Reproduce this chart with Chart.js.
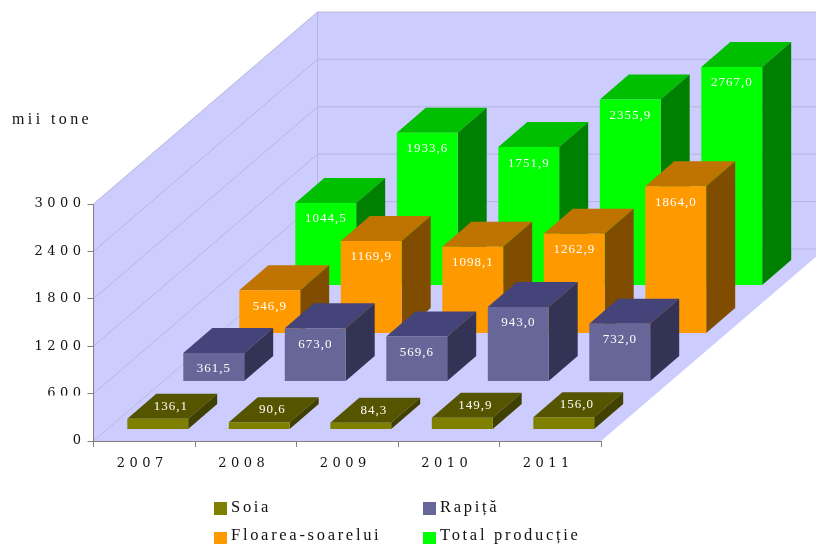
<!DOCTYPE html>
<html>
<head>
<meta charset="utf-8">
<style>html,body{margin:0;padding:0;background:#fff}canvas{display:block}</style>
<script src="https://cdn.jsdelivr.net/npm/chart.js@4"></script>
</head>
<body>
<canvas id="c" width="816" height="544"></canvas>
<script>
const years = ['2007','2008','2009','2010','2011'];
const soia = [136.1,90.6,84.3,149.9,156.0];
const rapita = [361.5,673.0,569.6,943.0,732.0];
const floarea = [546.9,1169.9,1098.1,1262.9,1864.0];
const total = [1044.5,1933.6,1751.9,2355.9,2767.0];
const yTicks = [0,600,1200,1800,2400,3000];
const names = ['Soia','Rapiță','Floarea-soarelui','Total producție'];
const unitLabel = 'mii tone';
const frontColors = ['#808000','#666699','#FF9900','#00FF00'];
const topColors = ['#555500','#44447A','#BF7300','#00BF00'];
const sideColors = ['#404000','#333355','#804D00','#008000'];

const WALL='#CCCCFF', GRID='#B6B6DE', AXIS='#808080', FONT='"Liberation Serif", serif', TICKFONT='"DejaVu Serif", serif';
const DX=224, DY=192, BDX=29, BDY=25;

function poly(ctx,pts,fill){
  ctx.beginPath();
  pts.forEach((p,i)=>i?ctx.lineTo(p[0],p[1]):ctx.moveTo(p[0],p[1]));
  ctx.closePath();
  ctx.fillStyle=fill; ctx.fill();
}
function line(ctx,x1,y1,x2,y2,c){
  ctx.beginPath();ctx.moveTo(x1,y1);ctx.lineTo(x2,y2);ctx.strokeStyle=c;ctx.lineWidth=1;ctx.stroke();
}
const fmt=v=>v.toFixed(1).replace('.',',');

const scene={
  id:'scene',
  beforeDraw(chart){
    const ctx=chart.ctx,a=chart.chartArea,ys=chart.scales.y;
    const L=a.left,R=a.right,B=a.bottom,T=ys.getPixelForValue(3000);
    ctx.save();
    poly(ctx,[[L,B],[L,T],[L+DX,T-DY],[L+DX,B-DY]],WALL);
    poly(ctx,[[L+DX,T-DY],[R+DX,T-DY],[R+DX,B-DY],[L+DX,B-DY]],WALL);
    poly(ctx,[[L,B],[R,B],[R+DX,B-DY],[L+DX,B-DY]],WALL);
    yTicks.forEach(v=>{
      const y=ys.getPixelForValue(v);
      line(ctx,L,y,L+DX,y-DY,GRID);
      line(ctx,L+DX,y-DY,R+DX,y-DY,GRID);
    });
    line(ctx,L+DX,T-DY,L+DX,B-DY,GRID);
    ctx.restore();
    ctx.letterSpacing='4.5px';
  },
  beforeDatasetsDraw(chart){
    const ctx=chart.ctx;
    ctx.letterSpacing='0px';
    ctx.save();
    // the 600 tick label is cut by a white band in the reference
    const y6=chart.scales.y.getPixelForValue(600);
    ctx.fillStyle='#fff';ctx.fillRect(30,y6+2,55,9);
    const n=chart.data.datasets.length;
    for(let k=n-1;k>=0;k--){
      const meta=chart.getDatasetMeta(k);
      const ox=13.5+k*DX/n, oy=-11.5-k*DY/n;
      meta.data.forEach((el,i)=>{
        const l=el.x-el.width/2+ox, r=el.x+el.width/2+ox, t=el.y+oy, b=el.base+oy;
        poly(ctx,[[l,t],[l+BDX,t-BDY],[r+BDX,t-BDY],[r,t]],topColors[k]);
        poly(ctx,[[r,t],[r+BDX,t-BDY],[r+BDX,b-BDY],[r,b]],sideColors[k]);
        poly(ctx,[[l,t],[r,t],[r,b],[l,b]],frontColors[k]);
        ctx.font='13px '+FONT;ctx.fillStyle='#fff';ctx.textAlign='center';ctx.textBaseline='middle';
        ctx.letterSpacing='1px';
        const v=chart.data.datasets[k].data[i], cx=(l+r)/2;
        if(b-t<20) ctx.fillText(fmt(v),cx+13,t-12.5);
        else ctx.fillText(fmt(v),cx,t+16);
        ctx.letterSpacing='0px';
      });
    }
    // unit label
    ctx.font='16px '+FONT;ctx.fillStyle='#111';ctx.textAlign='left';ctx.textBaseline='alphabetic';
    ctx.letterSpacing='3.4px';
    ctx.fillText(unitLabel,12,124);
    // legend
    const cols=[214,423], rows=[502,532], baselines=[512,540];
    chart.data.datasets.forEach((d,k)=>{
      const x=cols[k%2], r=k>>1;
      ctx.fillStyle=frontColors[k];ctx.fillRect(x,rows[r],13,13);
      ctx.fillStyle='#111';ctx.font='16.5px '+FONT;ctx.letterSpacing='2.7px';
      ctx.fillText(d.label,x+17,baselines[r]);
    });
    ctx.restore();
    ctx.letterSpacing='0px';
    return false;
  }
};

new Chart(document.getElementById('c'),{
  type:'bar',
  data:{labels:years,datasets:[soia,rapita,floarea,total].map((data,k)=>({
    label:names[k],data,backgroundColor:frontColors[k],grouped:false,
    categoryPercentage:0.6,barPercentage:1
  }))},
  plugins:[scene],
  options:{
    responsive:false,animation:false,events:[],
    layout:{padding:{left:0,right:215,top:204,bottom:0}},
    plugins:{legend:{display:false},title:{display:false},tooltip:{enabled:false}},
    scales:{
      x:{
        afterFit(s){s.height=103;},
        grid:{drawOnChartArea:false,color:AXIS,tickLength:6,offset:true},
        border:{color:AXIS},
        ticks:{color:'#111',font:{family:TICKFONT,size:13},padding:9,labelOffset:-2,maxRotation:0}
      },
      y:{
        min:0,max:3000,
        afterFit(s){s.width=93.5;},
        afterBuildTicks(s){s.ticks=yTicks.map(value=>({value}));},
        grid:{drawOnChartArea:false,color:AXIS,tickLength:6},
        border:{color:AXIS},
        ticks:{color:'#111',font:{family:TICKFONT,size:13},padding:2,callback:v=>String(v)}
      }
    }
  }
});
</script>
</body>
</html>
